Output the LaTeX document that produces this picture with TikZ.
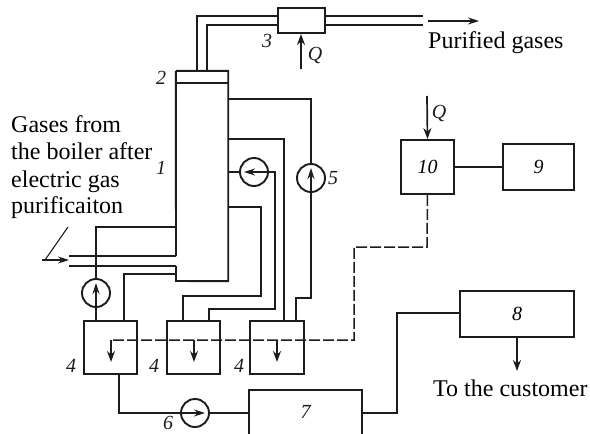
\documentclass[tikz,border=0pt]{standalone}
\usepackage{fontspec}
\setmainfont{Liberation Serif}
\usetikzlibrary{arrows.meta,calc}
\definecolor{ink}{HTML}{1C1C1C}
\tikzset{
  ln/.style={draw=ink,line width=1.9pt},
  flow/.style={draw=ink,line width=1.7pt,-{Stealth[length=11pt,width=8pt]}},
  thin flow/.style={draw=ink,line width=1.1pt,-{Stealth[length=11pt,width=7pt]}},
  dashline/.style={draw=ink,line width=1.5pt,dash pattern=on 11pt off 3pt},
  unit/.style={ln,inner sep=0pt,font=\fontsize{20}{20}\selectfont\itshape},
  pump/.style={ln,circle,inner sep=0pt,minimum size=28pt},
  lab/.style={inner sep=0pt,font=\fontsize{20}{20}\selectfont\itshape,text=ink},
  txt/.style={inner sep=0pt,anchor=base west,font=\fontsize{24}{24}\selectfont,text=black}
}
\begin{document}
\begin{tikzpicture}[x=1pt,y=-1pt]
\useasboundingbox (0,0) rectangle (590,434);
% units
\node[unit,minimum width=47pt,minimum height=25pt] (heater) at (301.5,20.5) {};
\node[unit,minimum width=53pt,minimum height=54pt] (ten) at (427.5,167) {10};
\node[unit,minimum width=71pt,minimum height=46pt] (nine) at (538.5,167) {9};
\node[unit,minimum width=114pt,minimum height=46pt] (eight) at (517,314) {8};
\node[unit,minimum width=53pt,minimum height=53pt] (tankA) at (110.5,347.5) {};
\node[unit,minimum width=53pt,minimum height=53pt] (tankB) at (193.5,347.5) {};
\node[unit,minimum width=54pt,minimum height=53pt] (tankC) at (277,347.5) {};
\node[lab,minimum width=113pt,minimum height=44pt] (seven) at (305.5,412) {7};
\node[inner sep=0pt,minimum width=52pt,minimum height=210pt] (col) at (202,176) {};
% column
\draw[ln] (col.north west) -- (col.north east) -- (col.south east) -- (176,281) -- (176,266);
\draw[ln] (col.north west) -- (176,256);
\draw[ln] (176,83) -- (228,83);
% box 7, open at the bottom
\draw[ln] (seven.south west) -- (seven.north west) -- (seven.north east) -- (seven.south east);
% pumps
\node[pump] (pumpA) at (96,293) {};
\node[pump] (pumpB) at (254,172) {};
\node[pump] (pumpC) at (311,178) {};
\node[pump] (pumpD) at (195,413) {};
\draw[thin flow] (pumpA.south) -- (96,283);
\draw[thin flow] (pumpB.east) -- (244,172);
\draw[thin flow] (pumpC.south) -- (311,168);
\draw[thin flow] (pumpD.west) -- (205,413);
% gas pipes
\draw[ln] (197,71) -- (197,16) -- (heater.west |- 197,16);
\draw[ln] (207,71) -- (207,25) -- (heater.west |- 207,25);
\draw[ln] (heater.east |- 0,16) -- (423,16);
\draw[ln] (heater.east |- 0,25) -- (423,25);
% inlet
\draw[ln] (69,256) -- (col.west |- 0,256);
\draw[ln] (69,266) -- (col.west |- 0,266);
\draw[draw=ink,line width=1.1pt] (68,227) -- (45,260);
\draw[thin flow] (42,260) -- (69,260);
% liquid lines
\draw[ln] (col.west |- 0,227) -- (96,227) -- (pumpA.north);
\draw[ln] (pumpA.south) -- (pumpA |- tankA.north);
\draw[ln] (col.west |- 0,274) -- (124,274) -- (124,0 |- tankA.north);
\draw[ln] (col.east |- 0,207) -- (261,207) -- (261,296) -- (183,296) -- (183,0 |- tankB.north);
\draw[ln] (col.east |- pumpB) -- (pumpB.west);
\draw[ln] (pumpB.east) -- (275,172) -- (275,309) -- (209,309) -- (209,0 |- tankB.north);
\draw[ln] (col.east |- 0,139) -- (284,139) -- (284,0 |- tankC.north);
\draw[ln] (col.east |- 0,99) -- (311,99) -- (pumpC.north);
\draw[ln] (pumpC.south) -- (311,298) -- (296,298) -- (296,0 |- tankC.north);
\draw[ln] (119,0 |- tankA.south) -- (119,413) -- (pumpD.west);
\draw[ln] (pumpD.east) -- (pumpD -| seven.west);
\draw[ln] (seven.east |- 0,413) -- (397,413) -- (397,313) -- (eight.west |- 397,313);
\draw[ln] (ten.east) -- (ten.east -| nine.west);
% arrows
\draw[flow] (301,69) -- (heater.south -| 301,0);
\draw[flow] (427,96) -- (ten.north);
\draw[flow] (eight.south) -- (517,371);
\draw[thin flow] (428,21) -- (479,21);
% dashed control line
\draw[dashline] (ten.south) -- (427,247) -- (354,247) -- (354,340) -- (113,340);
\draw[flow,line width=1.4pt] (111,340) -- (111,362);
\draw[flow,line width=1.4pt] (194,340) -- (194,362);
\draw[flow,line width=1.4pt] (277,340) -- (277,362);
% labels
\node[lab] (l1) at (161,168) {1};
\node[lab] (l2) at (161,78) {2};
\node[lab] (l3) at (267,41) {3};
\node[lab] (l4a) at (71,366) {4};
\node[lab] (l4b) at (154,366) {4};
\node[lab] (l4c) at (239,366) {4};
\node[lab] (l5) at (333,178) {5};
\node[lab] (l6) at (168,423) {6};
\node[lab] (q1) at (315,55) {Q};
\node[lab] (q2) at (439,113) {Q};
\node[txt] (t1) at (11,132) {Gases from};
\node[txt] (t2) at (11,159) {the boiler after};
\node[txt] (t3) at (11,187) {electric gas};
\node[txt] (t4) at (11,213) {purificaiton};
\node[txt] (t5) at (428,48) {Purified gases};
\node[txt] (t6) at (433,396) {To the customer};
\end{tikzpicture}
\end{document}
